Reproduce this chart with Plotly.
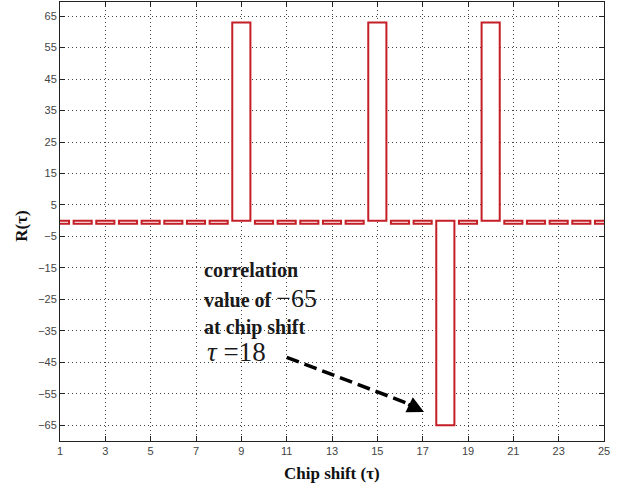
import plotly.graph_objects as go

chip_shift = list(range(1, 26))
corr_values = [-1, -1, -1, -1, -1, -1, -1, -1, 63, -1, -1, -1, -1, -1, 63, -1, -1, -65, -1, 63, -1, -1, -1, -1, -1]
x_ticks = list(range(1, 26, 2))
y_ticks = list(range(-65, 66, 10))

fig = go.Figure()
fig.add_trace(go.Bar(
    x=chip_shift, y=corr_values, width=0.8,
    marker=dict(color="white", line=dict(color="#c41e26", width=2)),
    showlegend=False,
))

serif = "Liberation Serif"
txt_color = "#1a1a1a"
ann = [
    dict(x=7.25, y=-15.7, text="<b>correlation</b>", size=20),
    dict(x=7.25, y=-24.6, text="<b>value of </b><span style='font-size:26px'>\u221265</span>", size=20),
    dict(x=7.25, y=-33.8, text="<b>at chip shift</b>", size=20),
    dict(x=7.4, y=-41.7, text="<i>\u03c4</i> =18", size=27),
]
for a in ann:
    fig.add_annotation(x=a["x"], y=a["y"], xref="x", yref="y", text=a["text"],
                       showarrow=False, xanchor="left", yanchor="middle",
                       font=dict(family=serif, size=a["size"], color=txt_color))

# dashed arrow
fig.add_shape(type="line", xref="x", yref="y", x0=11.0, y0=-43.4, x1=16.5, y1=-58.5,
              line=dict(color="black", width=3.5, dash="13px,6px"))
fig.add_annotation(x=17.06, y=-60.8, ax=16.3, ay=-58.1, xref="x", yref="y", axref="x", ayref="y",
                   text="", showarrow=True, arrowhead=2, arrowsize=0.95, arrowwidth=3.5,
                   arrowcolor="black")

# axis titles
fig.add_annotation(x=0.5, y=-0.075, xref="paper", yref="paper", text="<b>Chip shift (\u03c4)</b>",
                   showarrow=False, xanchor="center", yanchor="middle",
                   font=dict(family=serif, size=17, color="#111"))
fig.add_annotation(x=-0.07, y=0.49, xref="paper", yref="paper", text="<b>R(\u03c4)</b>",
                   showarrow=False, xanchor="center", yanchor="middle", textangle=-90,
                   font=dict(family=serif, size=17, color="#111"))

axis_common = dict(
    showline=True, linecolor="#222", linewidth=1, mirror="ticks",
    ticks="inside", ticklen=5, tickcolor="#222",
    showgrid=True, gridcolor="#444", gridwidth=1, griddash="1px,3px",
    zeroline=False, automargin=False,
    tickfont=dict(family="Liberation Sans", size=11, color="#444"),
)
fig.update_xaxes(range=[1, 25], tickvals=x_ticks, **axis_common)
fig.update_yaxes(range=[-70, 69.5], tickvals=y_ticks, **axis_common)

fig.update_layout(
    width=628, height=489,
    margin=dict(l=60, r=24, t=2, b=48),
    plot_bgcolor="white", paper_bgcolor="white",
    bargap=0.2,
)
fig.write_html("out.html", config={"displayModeBar": False},
               post_script="document.body.style.margin='0';document.body.style.padding='0';document.body.style.overflow='hidden';")
